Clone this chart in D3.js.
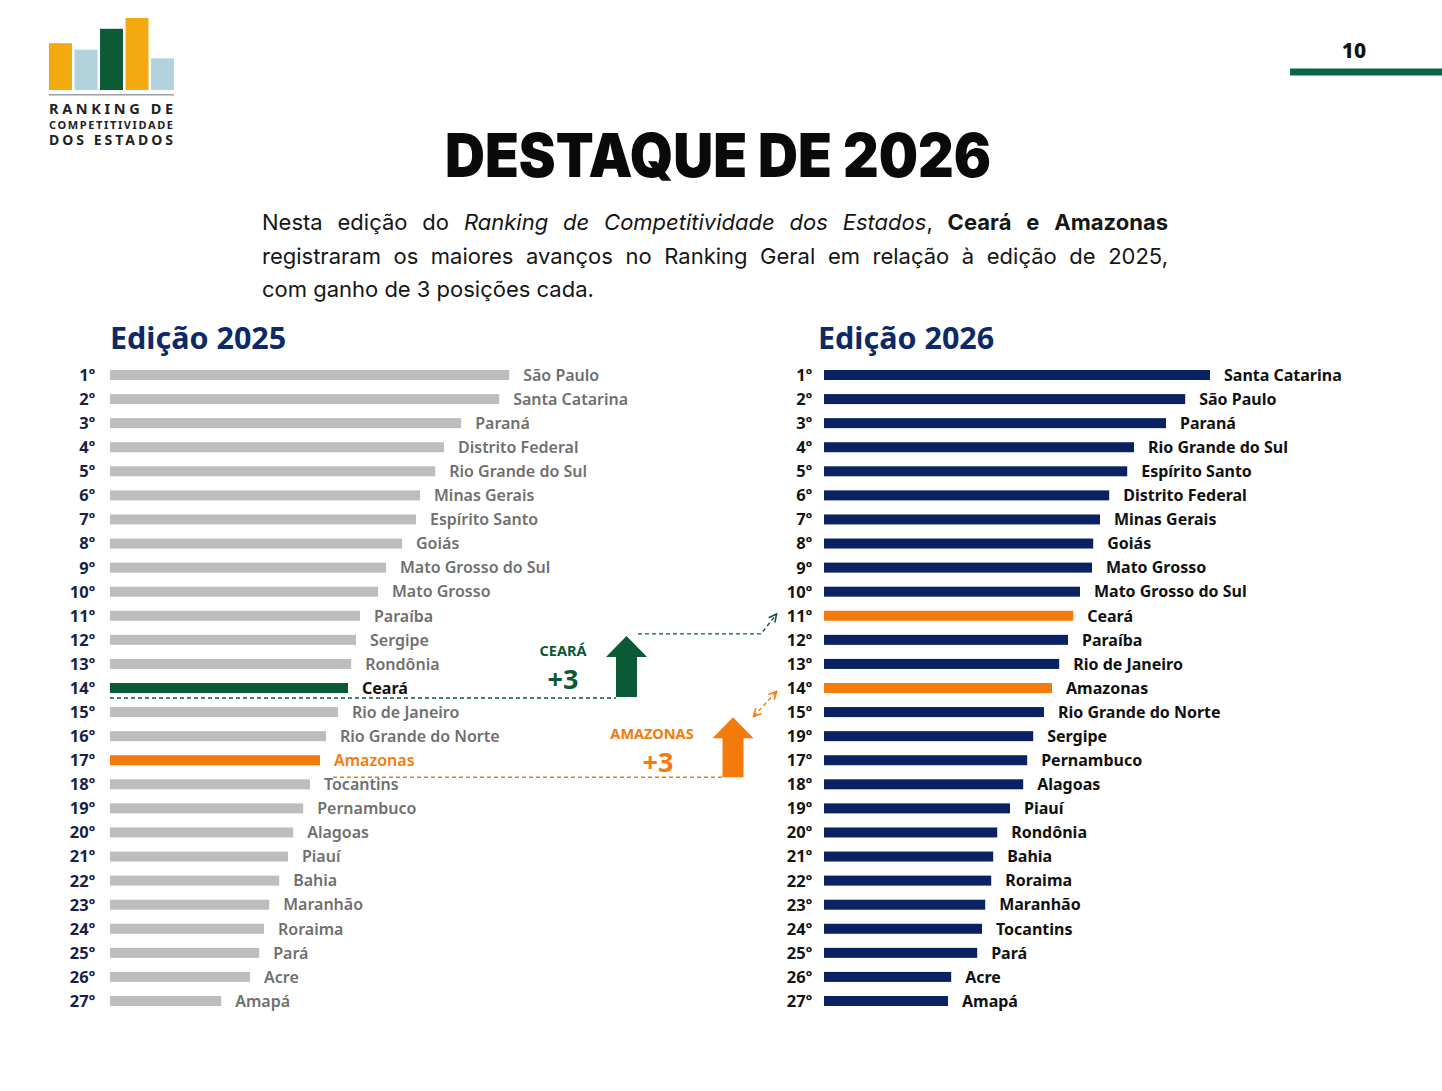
<!DOCTYPE html>
<html>
<head>
<meta charset="utf-8">
<script src="https://cdn.jsdelivr.net/npm/d3@7/dist/d3.min.js"></script>
<style>
  html, body { margin: 0; padding: 0; background: #fff; }
  svg { display: block; }
</style>
</head>
<body>
<svg id="chart" width="1442" height="1091"></svg>
<script>
// ---------------- DATA ----------------
const states2025 = ["São Paulo","Santa Catarina","Paraná","Distrito Federal","Rio Grande do Sul","Minas Gerais","Espírito Santo","Goiás","Mato Grosso do Sul","Mato Grosso","Paraíba","Sergipe","Rondônia","Ceará","Rio de Janeiro","Rio Grande do Norte","Amazonas","Tocantins","Pernambuco","Alagoas","Piauí","Bahia","Maranhão","Roraima","Pará","Acre","Amapá"];
const scores2025 = [99.8,97.3,87.8,83.5,81.3,77.5,76.5,73.0,69.0,67.0,62.5,61.5,60.3,59.5,57.0,54.0,52.5,50.0,48.3,45.8,44.5,42.3,39.8,38.5,37.3,35.0,27.8];
const rankLabels2025 = ["1º","2º","3º","4º","5º","6º","7º","8º","9º","10º","11º","12º","13º","14º","15º","16º","17º","18º","19º","20º","21º","22º","23º","24º","25º","26º","27º"];

const states2026 = ["Santa Catarina","São Paulo","Paraná","Rio Grande do Sul","Espírito Santo","Distrito Federal","Minas Gerais","Goiás","Mato Grosso","Mato Grosso do Sul","Ceará","Paraíba","Rio de Janeiro","Amazonas","Rio Grande do Norte","Sergipe","Pernambuco","Alagoas","Piauí","Rondônia","Bahia","Roraima","Maranhão","Tocantins","Pará","Acre","Amapá"];
const scores2026 = [96.5,90.3,85.5,77.5,75.8,71.3,69.0,67.3,67.0,64.0,62.3,61.0,58.8,57.0,55.0,52.3,50.8,49.8,46.5,43.3,42.3,41.8,40.3,39.5,38.3,31.8,31.0];
const rankLabels2026 = ["1º","2º","3º","4º","5º","6º","7º","8º","9º","10º","11º","12º","13º","14º","15º","19º","17º","18º","19º","20º","21º","22º","23º","24º","25º","26º","27º"];

const highlights = [
  { state: "Ceará", label: "CEARÁ", gain: "+3", from: 14, to: 11 },
  { state: "Amazonas", label: "AMAZONAS", gain: "+3", from: 17, to: 14 }
];

const logoBars = [0.65, 0.56, 0.85, 1.0, 0.44];

// ---------------- STYLE ----------------
const C = {
  navy: "#0b2262", gray: "#bdbdbd", grayText: "#6f6f6f", green: "#0b5a36",
  orange: "#f57a0c", rankLeft: "#1a2148", rankRight: "#141414", ink: "#111"
};
const FONT = "'Noto Sans', 'Inter', sans-serif";

const svg = d3.select("#chart");
svg.append("rect").attr("width", 1442).attr("height", 1091).attr("fill", "#fff");

// ---------------- HEADER ----------------
const logo = svg.append("g");
const lx = d3.scaleBand().domain(d3.range(logoBars.length)).range([49, 174]).paddingInner(0.1);
const ly = d3.scaleLinear().domain([0, 1]).range([90, 18]);
const logoColors = ["#f3aa10", "#b3d3dc", "#0d5b36", "#f3aa10", "#b3d3dc"];
logo.selectAll("rect.lb").data(logoBars).join("rect")
  .attr("x", (d, i) => lx(i)).attr("width", lx.bandwidth())
  .attr("y", d => ly(d)).attr("height", d => ly(0) - ly(d))
  .attr("fill", (d, i) => logoColors[i]);
logo.append("rect").attr("x", 49).attr("y", 94).attr("width", 125).attr("height", 1.5).attr("fill", "#9aa0a4");
[["RANKING DE", 114, 14.5], ["COMPETITIVIDADE", 128.5, 11], ["DOS ESTADOS", 144.5, 14]].forEach(([t, y, s]) => {
  logo.append("text").text(t).attr("x", 49).attr("y", y)
    .attr("font-family", FONT).attr("font-weight", 700).attr("font-size", s)
    .attr("fill", "#222").attr("textLength", 124).attr("lengthAdjust", "spacing");
});

// page number
svg.append("text").text("10").attr("x", 1354).attr("y", 58).attr("text-anchor", "middle")
  .attr("font-family", FONT).attr("font-weight", 800).attr("font-size", 21).attr("fill", C.ink);
svg.append("rect").attr("x", 1290).attr("y", 68.5).attr("width", 152).attr("height", 7).attr("fill", "#0b6545");

// title
svg.append("text").text("DESTAQUE DE 2026").attr("x", 445).attr("y", 177)
  .attr("font-family", "Inter, 'Noto Sans', sans-serif").attr("font-weight", 900).attr("font-size", 60)
  .attr("fill", "#0a0a0a").attr("textLength", 546).attr("lengthAdjust", "spacingAndGlyphs");

// paragraph (justified)
const para = [
  [[["Nesta"]], [["edição"]], [["do"]], [["Ranking", "i"]], [["de", "i"]], [["Competitividade", "i"]], [["dos", "i"]], [["Estados", "i"], [","]], [["Ceará", "b"]], [["e", "b"]], [["Amazonas", "b"]]],
  "registraram os maiores avanços no Ranking Geral em relação à edição de 2025,".split(" ").map(w => [[w]]),
  "com ganho de 3 posições cada.".split(" ").map(w => [[w]])
];
const paraX0 = 262, paraX1 = 1168, paraBase = [230, 263.5, 296.5], PF = 22;
para.forEach((words, li) => {
  const g = svg.append("g");
  const nodes = words.map(segs => {
    const t = g.append("text").attr("y", paraBase[li])
      .attr("font-family", "Inter, 'Noto Sans', sans-serif").attr("font-size", PF).attr("fill", "#161616");
    segs.forEach(([s, st]) => {
      t.append("tspan").text(s)
        .attr("font-style", st === "i" ? "italic" : "normal")
        .attr("font-weight", st === "b" ? 700 : 400);
    });
    return t;
  });
  const widths = nodes.map(n => n.node().getComputedTextLength());
  const sum = d3.sum(widths);
  const last = li === para.length - 1;
  const gap = last ? PF * 0.28 : (paraX1 - paraX0 - sum) / (nodes.length - 1);
  let x = paraX0;
  nodes.forEach((n, i) => { n.attr("x", x); x += widths[i] + gap; });
});

// ---------------- CHARTS ----------------
const y = d3.scalePoint().domain(d3.range(1, 28)).range([375, 1001]);
const x = d3.scaleLinear().domain([0, 100]).range([0, 400]);
const BAR_H = 10;

function drawPanel(opt) {
  const g = svg.append("g").attr("transform", `translate(${opt.x0},0)`);
  svg.append("text").text(opt.title).attr("x", opt.titleX).attr("y", 349)
    .attr("font-family", FONT).attr("font-weight", 700).attr("font-size", 30.5).attr("fill", "#0d2a66");
  const rows = opt.states.map((s, i) => ({ state: s, value: opt.scores[i], rank: i + 1, rl: opt.rankLabels[i] }));
  g.selectAll("rect.bar").data(rows).join("rect").attr("class", "bar")
    .attr("x", 0).attr("y", d => y(d.rank) - BAR_H / 2)
    .attr("width", d => x(d.value)).attr("height", BAR_H)
    .attr("fill", d => opt.barColor(d.state));
  g.selectAll("text.rank").data(rows).join("text").attr("class", "rank")
    .attr("x", opt.rankX).attr("y", d => y(d.rank)).attr("dy", "0.36em")
    .attr("text-anchor", "end").attr("font-family", FONT).attr("font-weight", 700)
    .attr("font-size", 16.5).attr("fill", opt.rankColor).text(d => d.rl);
  g.selectAll("text.name").data(rows).join("text").attr("class", "name")
    .attr("x", d => x(d.value) + 14).attr("y", d => y(d.rank)).attr("dy", "0.36em")
    .attr("font-family", FONT).attr("font-weight", d => opt.nameWeight(d.state)).attr("font-size", 16)
    .attr("fill", d => opt.nameColor(d.state)).text(d => d.state);
}

drawPanel({
  x0: 110, title: "Edição 2025", titleX: 110, states: states2025, scores: scores2025, rankLabels: rankLabels2025,
  rankX: -15, rankColor: C.rankLeft,
  barColor: s => s === "Ceará" ? C.green : s === "Amazonas" ? C.orange : C.gray,
  nameColor: s => s === "Ceará" ? C.ink : s === "Amazonas" ? C.orange : C.grayText,
  nameWeight: s => s === "Ceará" ? 700 : 600
});
drawPanel({
  x0: 824, title: "Edição 2026", titleX: 818, states: states2026, scores: scores2026, rankLabels: rankLabels2026,
  rankX: -12, rankColor: C.rankRight,
  barColor: s => highlights.some(h => h.state === s) ? C.orange : C.navy,
  nameColor: () => C.ink,
  nameWeight: () => 700
});

// ---------------- ANNOTATIONS ----------------
const defs = svg.append("defs");
[["ahG", C.green], ["ahO", C.orange]].forEach(([id, col]) => {
  defs.append("marker").attr("id", id).attr("viewBox", "0 0 10 10").attr("refX", 8).attr("refY", 5)
    .attr("markerWidth", 7).attr("markerHeight", 7).attr("orient", "auto-start-reverse")
    .append("path").attr("d", "M1,1 L9,5 L1,9").attr("fill", "none").attr("stroke", col).attr("stroke-width", 1.6);
});

function blockArrow(cx, yBottom, yTip, col) {
  const sw = 10.5, hw = 20.5, headH = 21;
  const p = d3.path();
  p.moveTo(cx - sw, yBottom); p.lineTo(cx - sw, yTip + headH); p.lineTo(cx - hw, yTip + headH);
  p.lineTo(cx, yTip); p.lineTo(cx + hw, yTip + headH); p.lineTo(cx + sw, yTip + headH);
  p.lineTo(cx + sw, yBottom); p.closePath();
  svg.append("path").attr("d", p.toString()).attr("fill", col);
}
const dash = { "stroke-width": 1.4, "stroke-dasharray": "4,3", fill: "none" };
function dline(pts, col, marker) {
  const l = svg.append("path").attr("d", d3.line()(pts)).attr("stroke", col);
  Object.entries(dash).forEach(([k, v]) => l.attr(k, v));
  if (marker) marker(l);
}

// Ceará
const ce = highlights[0];
const ceBase = y(ce.from) + 10;
dline([[110, ceBase], [616, ceBase]], C.green);
blockArrow(626.5, ceBase - 1, ceBase - 62, C.green);
dline([[638, y(ce.to + 1) - 6], [761, y(ce.to + 1) - 6], [776, y(ce.to) - 1]], C.green,
  l => l.attr("marker-end", "url(#ahG)"));
svg.append("text").text(ce.label).attr("x", 563).attr("y", 656).attr("text-anchor", "middle")
  .attr("font-family", FONT).attr("font-weight", 700).attr("font-size", 14.5).attr("fill", C.green);
svg.append("text").text(ce.gain).attr("x", 563).attr("y", 689).attr("text-anchor", "middle")
  .attr("font-family", FONT).attr("font-weight", 700).attr("font-size", 27).attr("fill", C.green);

// Amazonas
const am = highlights[1];
const amBase = y(am.from + 1) - 7;
dline([[333, amBase], [722, amBase]], C.orange);
blockArrow(733, amBase, amBase - 60, C.orange);
dline([[754, 716], [776, 692]], C.orange, l => l.attr("marker-end", "url(#ahO)").attr("marker-start", "url(#ahO)"));
svg.append("text").text(am.label).attr("x", 652).attr("y", 739).attr("text-anchor", "middle")
  .attr("font-family", FONT).attr("font-weight", 700).attr("font-size", 14.5).attr("fill", C.orange);
svg.append("text").text(am.gain).attr("x", 658).attr("y", 772).attr("text-anchor", "middle")
  .attr("font-family", FONT).attr("font-weight", 700).attr("font-size", 27).attr("fill", C.orange);
</script>
</body>
</html>
